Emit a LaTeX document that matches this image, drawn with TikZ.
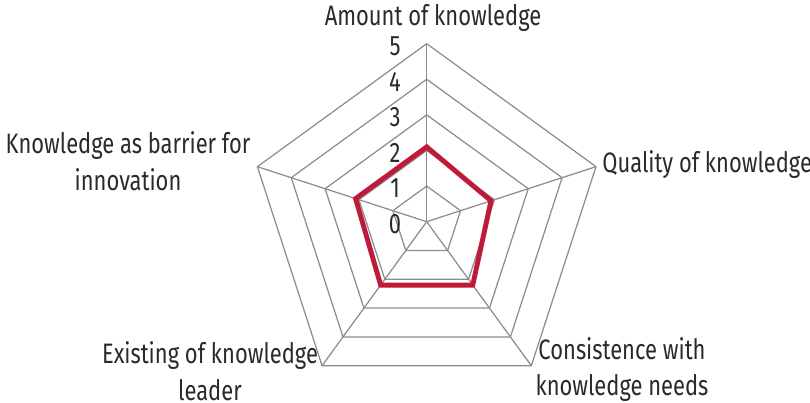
\documentclass[tikz,border=0pt]{standalone}
\usepackage{fontspec}
\setmainfont{Fira Sans}[FakeStretch=0.78]
\usetikzlibrary{calc}
\definecolor{gridgray}{HTML}{8C8C8C}
\definecolor{radarred}{HTML}{BE1A3A}
\definecolor{labelink}{HTML}{2A2A2A}
\tikzset{
  gridline/.style={line width=0.7pt, color=gridgray},
  valueline/.style={line width=2.8pt, color=radarred, line join=miter},
  axislabel/.style={font=\fontsize{16}{21}\selectfont, color=labelink, inner sep=0pt, align=center},
  ticklabel/.style={font=\fontsize{16}{21}\selectfont, color=labelink, inner sep=0pt},
}
\def\unitr{0.712}

\begin{document}
\begin{tikzpicture}
	%%%%% START %%%%%
	\useasboundingbox (-8.534,-3.626) rectangle (7.666,4.434);
	
	% rings
	\foreach \r in {1,...,5}
		\draw[gridline] (90:{\r*\unitr}) -- (18:{\r*\unitr}) -- (-54:{\r*\unitr}) -- (-126:{\r*\unitr}) -- (162:{\r*\unitr}) -- cycle;
	% spokes
	\foreach \a in {90,18,-54,-126,162}
		\draw[gridline] (0,0) -- (\a:{5*\unitr});
	
	% values
	\draw[valueline] (90:{2.1*\unitr}) -- (18:{1.9*\unitr}) -- (-54:{2.2*\unitr}) -- (-126:{2.2*\unitr}) -- (162:{2.1*\unitr}) -- cycle;
	
	% scale
	\foreach \v in {0,...,5}
		\node[ticklabel] (tick\v) at (-0.634, {\v*\unitr-0.05}) {\v};
	
	% axes
	\node[axislabel, anchor=base] (amount) at (0.126, 3.914) {Amount of knowledge};
	\node[axislabel, anchor=base west] (quality) at (3.506, 0.974) {Quality of knowledge};
	\node[axislabel] (consistence) at (3.906, -2.956) {Consistence with\\knowledge needs};
	\node[axislabel] (existing) at (-4.334, -2.99) {Existing of knowledge\\leader};
	\node[axislabel] (barrier) at (-5.974, 1.204) {Knowledge as barrier for\\innovation};
	
	%%%%% END %%%%%
\end{tikzpicture}
\end{document}
